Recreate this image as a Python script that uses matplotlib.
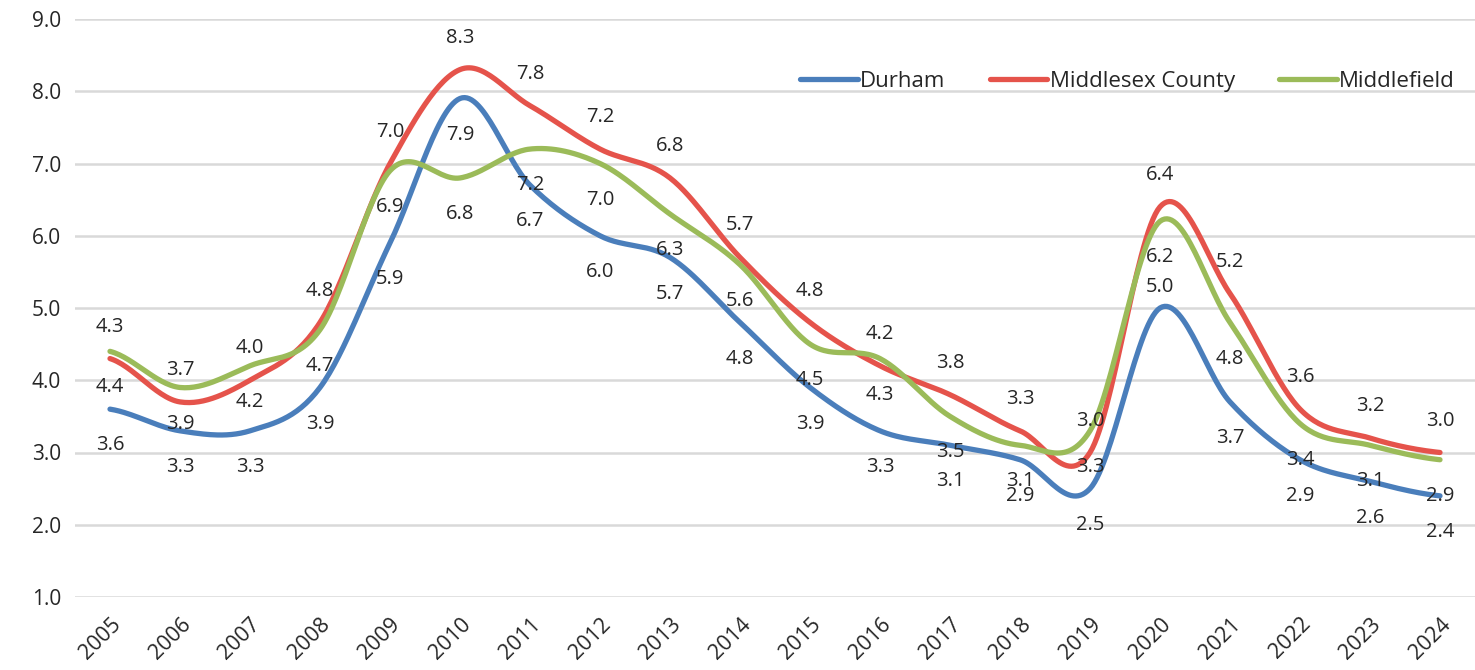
import matplotlib
matplotlib.use('Agg')
import matplotlib.pyplot as plt
import numpy as np

years = [2005, 2006, 2007, 2008, 2009, 2010, 2011, 2012, 2013, 2014,
         2015, 2016, 2017, 2018, 2019, 2020, 2021, 2022, 2023, 2024]
durham = [3.6, 3.3, 3.3, 3.9, 5.9, 7.9, 6.7, 6.0, 5.7, 4.8,
          3.9, 3.3, 3.1, 2.9, 2.5, 5.0, 3.7, 2.9, 2.6, 2.4]
middlesex = [4.3, 3.7, 4.0, 4.8, 7.0, 8.3, 7.8, 7.2, 6.8, 5.7,
             4.8, 4.2, 3.8, 3.3, 3.0, 6.4, 5.2, 3.6, 3.2, 3.0]
middlefield = [4.4, 3.9, 4.2, 4.7, 6.9, 6.8, 7.2, 7.0, 6.3, 5.6,
               4.5, 4.3, 3.5, 3.1, 3.3, 6.2, 4.8, 3.4, 3.1, 2.9]

plt.rcParams['font.family'] = ['Open Sans', 'DejaVu Sans']


def smooth(x, y, n=30):
    # catmull-rom like excel's smoothed line
    x = np.asarray(x, float)
    y = np.asarray(y, float)
    px = np.concatenate([[2 * x[0] - x[1]], x, [2 * x[-1] - x[-2]]])
    py = np.concatenate([[y[0]], y, [y[-1]]])
    xs, ys = [], []
    t = np.linspace(0, 1, n, endpoint=False)
    for i in range(1, len(px) - 2):
        for arr, out in ((px, xs), (py, ys)):
            p0, p1, p2, p3 = arr[i - 1], arr[i], arr[i + 1], arr[i + 2]
            c1 = p1 + (p2 - p0) / 6
            c2 = p2 - (p3 - p1) / 6
            out.extend((1 - t) ** 3 * p1 + 3 * (1 - t) ** 2 * t * c1
                       + 3 * (1 - t) * t ** 2 * c2 + t ** 3 * p2)
    xs.append(x[-1])
    ys.append(y[-1])
    return xs, ys


fig = plt.figure(figsize=(14.75, 6.7), dpi=100)
ax = fig.add_axes([75 / 1475, 73 / 670, 1400 / 1475, 578 / 670])

idx = np.arange(len(years))
series = [
    ('Durham', durham, '#4A7EBB', -26),
    ('Middlesex County', middlesex, '#E5534B', 23),
    ('Middlefield', middlefield, '#9BBB59', -26),
]
for name, vals, col, off in series:
    sx, sy = smooth(idx, vals)
    ax.plot(sx, sy, color=col, lw=3.8, label=name, solid_capstyle='round', zorder=3)

for name, vals, col, off in series:
    for i, v in enumerate(vals):
        o = off
        if name == 'Durham' and years[i] == 2020:
            o = 15
        ax.annotate(f'{v:.1f}', (i, v), xytext=(0, o), textcoords='offset points',
                    ha='center', va='center', fontsize=14.5, color='#262626', zorder=4)

ax.set_ylim(1, 9)
ax.set_xlim(-0.5, len(years) - 0.5)
ax.set_yticks(np.arange(1, 9.1, 1))
ax.set_yticklabels([f'{v:.1f}' for v in np.arange(1, 9.1, 1)], fontsize=15, color='#262626')
ax.set_xticks(idx)
ax.set_xticklabels([str(y) for y in years], rotation=45, ha='right', rotation_mode='anchor',
                   fontsize=15.5, color='#262626')
ax.tick_params(length=0, pad=10)
ax.tick_params(axis='x', pad=12)
ax.grid(axis='y', color='#D9D9D9', lw=1.8)
ax.set_axisbelow(True)
for s in ax.spines.values():
    s.set_visible(False)

leg = ax.legend(loc='upper right', bbox_to_anchor=(1.0, 0.945), ncol=3, frameon=False,
                fontsize=16, handlelength=2.6, handletextpad=0.1, columnspacing=2.0)
for t in leg.get_texts():
    t.set_color('#262626')

fig.savefig('out.png', dpi=100)
